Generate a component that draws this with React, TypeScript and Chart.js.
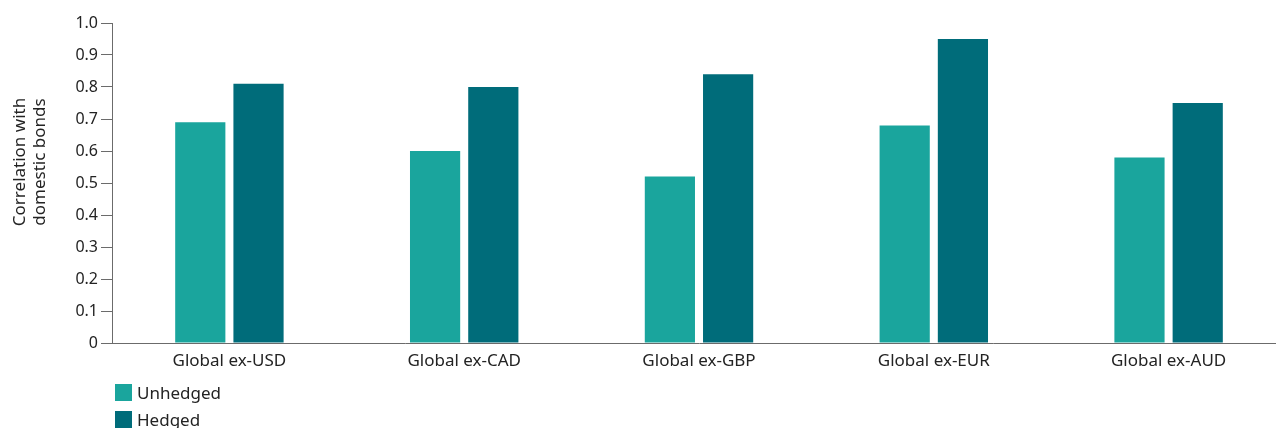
import React, { useEffect, useRef } from "react";
import { Chart, registerables } from "chart.js";

Chart.register(...registerables);

const categories = ["Global ex-USD", "Global ex-CAD", "Global ex-GBP", "Global ex-EUR", "Global ex-AUD"];
const unhedged = [0.69, 0.6, 0.52, 0.68, 0.58];
const hedged = [0.81, 0.8, 0.84, 0.95, 0.75];
const seriesNames = ["Unhedged", "Hedged"];
const yTitleLines = ["Correlation with", "domestic bonds"];

const COLORS = ["#1aa59d", "#006c7a"];
const TEXT = "#232323";
const AXIS = "#6b6b6b";
const FONT = "'Noto Sans', sans-serif";

// draws the two-line rotated y-axis caption
const yCaption = {
  id: "yCaption",
  afterDraw(chart: any) {
    const ctx = chart.ctx;
    ctx.save();
    ctx.fillStyle = TEXT;
    ctx.font = `17px ${FONT}`;
    ctx.textAlign = "center";
    ctx.textBaseline = "middle";
    const cy = 162;
    yTitleLines.forEach((line, i) => {
      ctx.save();
      ctx.translate(20 + i * 20, cy);
      ctx.rotate(-Math.PI / 2);
      ctx.fillText(line, 0, 0);
      ctx.restore();
    });
    ctx.restore();
  },
};

export default function App() {
  const ref = useRef<HTMLCanvasElement | null>(null);

  useEffect(() => {
    if (!ref.current) return;
    const chart = new Chart(ref.current, {
      type: "bar",
      data: {
        labels: categories,
        datasets: [
          { label: seriesNames[0], data: unhedged, backgroundColor: COLORS[0], borderWidth: 0, barPercentage: 0.862, categoryPercentage: 0.496 },
          { label: seriesNames[1], data: hedged, backgroundColor: COLORS[1], borderWidth: 0, barPercentage: 0.862, categoryPercentage: 0.496 },
        ],
      },
      options: {
        animation: false,
        responsive: false,
        layout: { padding: { top: 23, right: 0, left: 0, bottom: 0 } },
        plugins: { legend: { display: false }, tooltip: { enabled: false } },
        scales: {
          x: {
            grid: { display: false, drawTicks: false },
            border: { display: true, color: AXIS, width: 1 },
            ticks: { color: TEXT, font: { family: FONT, size: 17 }, padding: 8 },
            afterFit: (s: any) => { s.height = 85; },
          },
          y: {
            min: 0,
            max: 1,
            grid: { display: true, drawOnChartArea: false, drawTicks: true, tickLength: 11, color: AXIS },
            border: { display: true, color: AXIS, width: 1 },
            ticks: {
              stepSize: 0.1,
              color: TEXT,
              padding: 3,
              font: { family: FONT, size: 16 },
              callback: (v: any) => (v === 0 ? "0" : Number(v).toFixed(1)),
            },
            afterFit: (s: any) => { s.width = 112; },
          },
        },
      },
      plugins: [yCaption],
    });
    return () => chart.destroy();
  }, []);

  return (
    <div style={{ position: "absolute", left: 0, top: 0, width: 1276, height: 428, overflow: "hidden", background: "#fff" }}>
      <canvas ref={ref} width={1286} height={428} style={{ display: "block" }} />
      {seriesNames.map((name, i) => (
        <div
          key={name}
          style={{ position: "absolute", left: 115, top: 384 + i * 27, display: "flex", alignItems: "center", fontFamily: FONT, fontSize: 17, color: TEXT, lineHeight: "17px" }}
        >
          <span style={{ display: "inline-block", width: 17, height: 17, background: COLORS[i], marginRight: 5 }} />
          {name}
        </div>
      ))}
    </div>
  );
}
